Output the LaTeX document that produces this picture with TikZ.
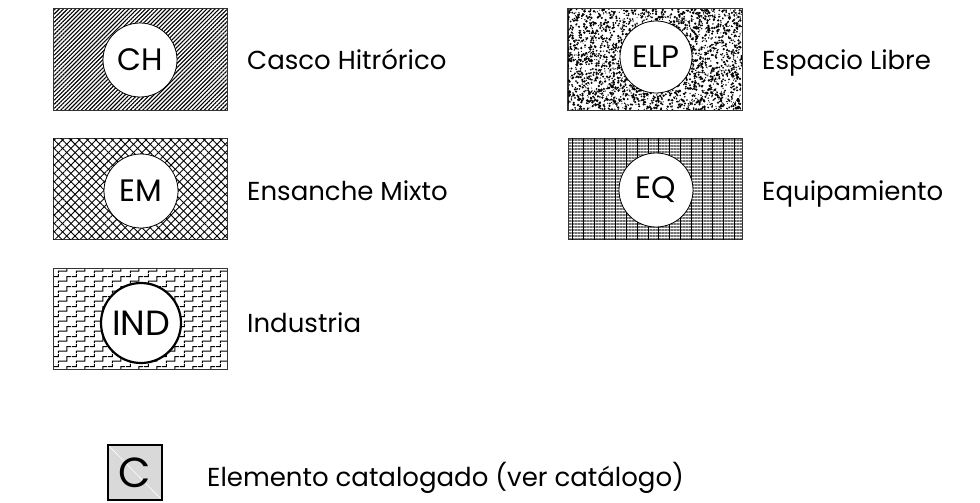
\documentclass[tikz,border=0pt]{standalone}
\usepackage{fontspec}
\setmainfont{Poppins}
\usetikzlibrary{positioning,patterns,patterns.meta}

% escalones (Industria)
\pgfdeclarepatternformonly{stairs}{\pgfpointorigin}{\pgfpoint{18pt}{10pt}}{\pgfpoint{18pt}{10pt}}{%
\pgfsetlinewidth{1.1pt}
\pgfpathmoveto{\pgfpoint{3.95pt}{2pt}}\pgfpathlineto{\pgfpoint{13.5pt}{2pt}}\pgfpathlineto{\pgfpoint{13.5pt}{7pt}}\pgfpathlineto{\pgfpoint{18pt}{7pt}}
\pgfpathmoveto{\pgfpoint{0pt}{7pt}}\pgfpathlineto{\pgfpoint{4.5pt}{7pt}}\pgfpathlineto{\pgfpoint{4.5pt}{10pt}}
\pgfpathmoveto{\pgfpoint{4.5pt}{0pt}}\pgfpathlineto{\pgfpoint{4.5pt}{2.55pt}}
\pgfusepath{stroke}}

\newcommand\lblfont{\fontsize{26}{30}\selectfont}

\begin{document}
\begin{tikzpicture}[x=1pt,y=-1pt,
  zone/.style={draw=black!80,line width=1pt,minimum width=174pt,minimum height=101pt,inner sep=0pt},
  badge/.style={circle,draw,fill=white,line width=0.8pt,minimum size=74pt,inner sep=0pt,font=\fontsize{31}{31}\selectfont},
  lbl/.style={anchor=base west,inner sep=0pt,font=\lblfont}]
\useasboundingbox (0,0) rectangle (980,503);
% zonas
\node[zone,pattern={Lines[angle=45,distance=2.9pt,line width=1.1pt]}] (ch) at (140,59.5) {};
\node[zone,pattern={Lines[angle=45,distance=5.9pt,line width=0.9pt]},
  postaction={pattern={Lines[angle=-45,distance=5.9pt,line width=0.9pt]}}] (em) at (140,189) {};
\node[zone,pattern=stairs] (ind) at (140,319) {};
\node[zone,pattern={Lines[angle=0,distance=3pt,line width=1.3pt]},pattern color=black!55,
  postaction={pattern={Lines[angle=90,distance=10.8pt,line width=1pt]},pattern color=black}] (eq) at (655,189) {};
\node[zone] (elp) at (655,59.5) {};
\begin{scope}
\clip (elp.north west) rectangle (elp.south east);
\pgfmathsetseed{42}
\foreach \i in {1,...,2900}
  \fill ({568+174*rnd},{9+101*rnd}) circle ({0.5+0.85*rnd});
\end{scope}
\draw[black!80,line width=1pt] (elp.north west) rectangle (elp.south east);
% circulos
\node[badge] (chc) at (140,60) {CH};
\node[badge] (emc) at (141,191) {EM};
\node[badge,line width=2.2pt,minimum size=80pt,font=\fontsize{35}{35}\selectfont] (indc) at (141,323) {IND};
\node[badge,minimum size=72pt] (elpc) at (656,57) {ELP};
\node[badge] (eqc) at (656,190) {EQ};
% textos
\node[lbl] (chl) at (247,70) {Casco Hitrórico};
\node[lbl] (eml) at (247,200) {Ensanche Mixto};
\node[lbl] (indl) at (247,332) {Industria};
\node[lbl] (elpl) at (762,70) {Espacio Libre};
\node[lbl] (eql) at (762,200) {Equipamiento};
% catalogado
\node[draw,line width=1.3pt,fill=black!15,minimum width=54pt,minimum height=55pt,inner sep=0pt,
  path picture={\draw[white,line width=0.6pt] (path picture bounding box.north west) -- (path picture bounding box.south east);},
  font=\fontsize{42}{42}\selectfont] (cat) at (135,472.5) {C};
\node[lbl] (catl) at (207,486) {Elemento catalogado (ver catálogo)};
\end{tikzpicture}
\end{document}
